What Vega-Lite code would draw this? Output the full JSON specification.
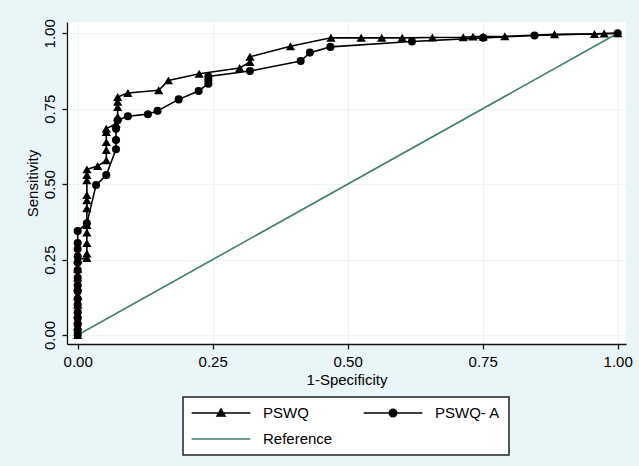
{
  "$schema": "https://vega.github.io/schema/vega-lite/v6.json",
  "width": 559,
  "height": 322,
  "autosize": {"type": "none"},
  "padding": {"left": 67, "top": 22, "right": 13, "bottom": 122},
  "background": "#EAF5F8",
  "config": {
    "view": {"fill": "white", "stroke": null},
    "font": "Liberation Sans",
    "axis": {
      "labelFont": "Liberation Sans",
      "titleFont": "Liberation Sans",
      "labelFontSize": 15,
      "titleFontSize": 15,
      "titleFontWeight": "normal",
      "labelColor": "black",
      "titleColor": "black",
      "domainColor": "#111111",
      "domainWidth": 1.3,
      "tickColor": "#111111",
      "tickWidth": 1.3,
      "tickSize": 5,
      "labelPadding": 5,
      "grid": true,
      "gridColor": "#EAF3F5",
      "labelFlush": false,
      "labelOverlap": false
    }
  },
  "data": {
    "values": [
      {"series": "Reference", "ord": 1, "fpr": 0, "tpr": 0},
      {"series": "Reference", "ord": 2, "fpr": 1, "tpr": 1},
      {"series": "PSWQ", "ord": 1, "fpr": 0, "tpr": 0},
      {"series": "PSWQ", "ord": 2, "fpr": 0, "tpr": 0.03},
      {"series": "PSWQ", "ord": 3, "fpr": 0, "tpr": 0.05},
      {"series": "PSWQ", "ord": 4, "fpr": 0, "tpr": 0.07},
      {"series": "PSWQ", "ord": 5, "fpr": 0, "tpr": 0.10},
      {"series": "PSWQ", "ord": 6, "fpr": 0, "tpr": 0.13},
      {"series": "PSWQ", "ord": 7, "fpr": 0, "tpr": 0.16},
      {"series": "PSWQ", "ord": 8, "fpr": 0, "tpr": 0.19},
      {"series": "PSWQ", "ord": 9, "fpr": 0, "tpr": 0.22},
      {"series": "PSWQ", "ord": 10, "fpr": 0, "tpr": 0.25},
      {"series": "PSWQ", "ord": 11, "fpr": 0.017, "tpr": 0.255},
      {"series": "PSWQ", "ord": 12, "fpr": 0.017, "tpr": 0.27},
      {"series": "PSWQ", "ord": 13, "fpr": 0.017, "tpr": 0.305},
      {"series": "PSWQ", "ord": 14, "fpr": 0.017, "tpr": 0.34},
      {"series": "PSWQ", "ord": 15, "fpr": 0.017, "tpr": 0.365},
      {"series": "PSWQ", "ord": 16, "fpr": 0.017, "tpr": 0.42},
      {"series": "PSWQ", "ord": 17, "fpr": 0.017, "tpr": 0.447},
      {"series": "PSWQ", "ord": 18, "fpr": 0.017, "tpr": 0.464},
      {"series": "PSWQ", "ord": 19, "fpr": 0.017, "tpr": 0.513},
      {"series": "PSWQ", "ord": 20, "fpr": 0.017, "tpr": 0.53},
      {"series": "PSWQ", "ord": 21, "fpr": 0.017, "tpr": 0.549},
      {"series": "PSWQ", "ord": 22, "fpr": 0.037, "tpr": 0.56},
      {"series": "PSWQ", "ord": 23, "fpr": 0.053, "tpr": 0.579},
      {"series": "PSWQ", "ord": 24, "fpr": 0.053, "tpr": 0.613},
      {"series": "PSWQ", "ord": 25, "fpr": 0.053, "tpr": 0.64},
      {"series": "PSWQ", "ord": 26, "fpr": 0.053, "tpr": 0.673},
      {"series": "PSWQ", "ord": 27, "fpr": 0.053, "tpr": 0.684},
      {"series": "PSWQ", "ord": 28, "fpr": 0.071, "tpr": 0.70},
      {"series": "PSWQ", "ord": 29, "fpr": 0.074, "tpr": 0.723},
      {"series": "PSWQ", "ord": 30, "fpr": 0.074, "tpr": 0.756},
      {"series": "PSWQ", "ord": 31, "fpr": 0.074, "tpr": 0.773},
      {"series": "PSWQ", "ord": 32, "fpr": 0.074, "tpr": 0.789},
      {"series": "PSWQ", "ord": 33, "fpr": 0.093, "tpr": 0.802},
      {"series": "PSWQ", "ord": 34, "fpr": 0.150, "tpr": 0.811},
      {"series": "PSWQ", "ord": 35, "fpr": 0.168, "tpr": 0.844},
      {"series": "PSWQ", "ord": 36, "fpr": 0.225, "tpr": 0.866},
      {"series": "PSWQ", "ord": 37, "fpr": 0.300, "tpr": 0.885},
      {"series": "PSWQ", "ord": 38, "fpr": 0.319, "tpr": 0.905},
      {"series": "PSWQ", "ord": 39, "fpr": 0.319, "tpr": 0.922},
      {"series": "PSWQ", "ord": 40, "fpr": 0.394, "tpr": 0.957},
      {"series": "PSWQ", "ord": 41, "fpr": 0.469, "tpr": 0.985},
      {"series": "PSWQ", "ord": 42, "fpr": 0.525, "tpr": 0.985},
      {"series": "PSWQ", "ord": 43, "fpr": 0.563, "tpr": 0.985},
      {"series": "PSWQ", "ord": 44, "fpr": 0.601, "tpr": 0.985},
      {"series": "PSWQ", "ord": 45, "fpr": 0.657, "tpr": 0.986},
      {"series": "PSWQ", "ord": 46, "fpr": 0.714, "tpr": 0.987},
      {"series": "PSWQ", "ord": 47, "fpr": 0.732, "tpr": 0.989},
      {"series": "PSWQ", "ord": 48, "fpr": 0.751, "tpr": 0.989},
      {"series": "PSWQ", "ord": 49, "fpr": 0.791, "tpr": 0.99},
      {"series": "PSWQ", "ord": 50, "fpr": 0.883, "tpr": 0.997},
      {"series": "PSWQ", "ord": 51, "fpr": 0.957, "tpr": 0.998},
      {"series": "PSWQ", "ord": 52, "fpr": 0.975, "tpr": 0.999},
      {"series": "PSWQ", "ord": 53, "fpr": 1, "tpr": 1},
      {"series": "PSWQ- A", "ord": 1, "fpr": 0, "tpr": 0},
      {"series": "PSWQ- A", "ord": 2, "fpr": 0, "tpr": 0.015},
      {"series": "PSWQ- A", "ord": 3, "fpr": 0, "tpr": 0.035},
      {"series": "PSWQ- A", "ord": 4, "fpr": 0, "tpr": 0.055},
      {"series": "PSWQ- A", "ord": 5, "fpr": 0, "tpr": 0.075},
      {"series": "PSWQ- A", "ord": 6, "fpr": 0, "tpr": 0.10},
      {"series": "PSWQ- A", "ord": 7, "fpr": 0, "tpr": 0.12},
      {"series": "PSWQ- A", "ord": 8, "fpr": 0, "tpr": 0.145},
      {"series": "PSWQ- A", "ord": 9, "fpr": 0, "tpr": 0.165},
      {"series": "PSWQ- A", "ord": 10, "fpr": 0, "tpr": 0.19},
      {"series": "PSWQ- A", "ord": 11, "fpr": 0, "tpr": 0.215},
      {"series": "PSWQ- A", "ord": 12, "fpr": 0, "tpr": 0.24},
      {"series": "PSWQ- A", "ord": 13, "fpr": 0, "tpr": 0.26},
      {"series": "PSWQ- A", "ord": 14, "fpr": 0, "tpr": 0.285},
      {"series": "PSWQ- A", "ord": 15, "fpr": 0, "tpr": 0.305},
      {"series": "PSWQ- A", "ord": 16, "fpr": 0, "tpr": 0.345},
      {"series": "PSWQ- A", "ord": 17, "fpr": 0.017, "tpr": 0.37},
      {"series": "PSWQ- A", "ord": 18, "fpr": 0.034, "tpr": 0.497},
      {"series": "PSWQ- A", "ord": 19, "fpr": 0.053, "tpr": 0.53},
      {"series": "PSWQ- A", "ord": 20, "fpr": 0.071, "tpr": 0.616},
      {"series": "PSWQ- A", "ord": 21, "fpr": 0.071, "tpr": 0.646},
      {"series": "PSWQ- A", "ord": 22, "fpr": 0.071, "tpr": 0.684},
      {"series": "PSWQ- A", "ord": 23, "fpr": 0.074, "tpr": 0.712},
      {"series": "PSWQ- A", "ord": 24, "fpr": 0.093, "tpr": 0.725},
      {"series": "PSWQ- A", "ord": 25, "fpr": 0.130, "tpr": 0.732},
      {"series": "PSWQ- A", "ord": 26, "fpr": 0.148, "tpr": 0.743},
      {"series": "PSWQ- A", "ord": 27, "fpr": 0.187, "tpr": 0.781},
      {"series": "PSWQ- A", "ord": 28, "fpr": 0.224, "tpr": 0.809},
      {"series": "PSWQ- A", "ord": 29, "fpr": 0.242, "tpr": 0.833},
      {"series": "PSWQ- A", "ord": 30, "fpr": 0.242, "tpr": 0.845},
      {"series": "PSWQ- A", "ord": 31, "fpr": 0.242, "tpr": 0.857},
      {"series": "PSWQ- A", "ord": 32, "fpr": 0.319, "tpr": 0.875},
      {"series": "PSWQ- A", "ord": 33, "fpr": 0.413, "tpr": 0.908},
      {"series": "PSWQ- A", "ord": 34, "fpr": 0.430, "tpr": 0.936},
      {"series": "PSWQ- A", "ord": 35, "fpr": 0.468, "tpr": 0.955},
      {"series": "PSWQ- A", "ord": 36, "fpr": 0.619, "tpr": 0.973},
      {"series": "PSWQ- A", "ord": 37, "fpr": 0.751, "tpr": 0.985},
      {"series": "PSWQ- A", "ord": 38, "fpr": 0.846, "tpr": 0.993},
      {"series": "PSWQ- A", "ord": 39, "fpr": 1, "tpr": 1}
    ]
  },
  "encoding": {
    "x": {
      "field": "fpr",
      "type": "quantitative",
      "scale": {"domain": [-0.0198, 1.0154], "nice": false, "zero": false},
      "axis": {"title": "1-Specificity", "values": [0, 0.25, 0.5, 0.75, 1], "format": ".2f", "titlePadding": 3}
    },
    "y": {
      "field": "tpr",
      "type": "quantitative",
      "scale": {"domain": [-0.0298, 1.0375], "nice": false, "zero": false},
      "axis": {"title": "Sensitivity", "values": [0, 0.25, 0.5, 0.75, 1], "format": ".2f", "labelAngle": 270, "labelAlign": "center", "labelBaseline": "bottom", "titlePadding": 2}
    }
  },
  "layer": [
    {
      "mark": {"type": "line", "strokeWidth": 1.6},
      "encoding": {
        "color": {
          "field": "series",
          "type": "nominal",
          "scale": {"domain": ["PSWQ", "PSWQ- A", "Reference"], "range": ["#000000", "#000000", "#437F70"]},
          "legend": {
            "title": null,
            "orient": "none",
            "direction": "horizontal",
            "legendX": 116,
            "legendY": 375,
            "columns": 2,
            "symbolSize": 196,
            "symbolStrokeWidth": 1.3,
            "symbolOffset": 22,
            "labelOffset": 34,
            "labelFont": "Liberation Sans",
            "labelFontSize": 15,
            "labelColor": "black",
            "labelLimit": 300,
            "columnPadding": 28,
            "rowPadding": 10,
            "padding": 8,
            "strokeColor": "#222222",
            "fillColor": "white",
            "encode": {
              "symbols": {
                "update": {
                  "shape": {"signal": "datum.value === 'PSWQ' ? 'M-4.2,0H4.2M0,-0.6L0.6,0.45H-0.6Z' : (datum.value === 'PSWQ- A' ? 'M-4.2,0H4.2M-0.55,0A0.55,0.55 0 1,0 0.55,0A0.55,0.55 0 1,0 -0.55,0Z' : 'M-4.2,0H4.2')"},
                  "fill": {"signal": "datum.value === 'Reference' ? 'transparent' : 'black'"}
                }
              },
              "legend": {"update": {"strokeWidth": {"value": 1.5}}}
            }
          }
        },
        "order": {"field": "ord", "type": "quantitative"}
      }
    },
    {
      "transform": [{"filter": "datum.series !== 'Reference'"}],
      "mark": {"type": "point", "filled": true, "opacity": 1, "color": "black"},
      "encoding": {
        "shape": {
          "field": "series",
          "type": "nominal",
          "scale": {"domain": ["PSWQ", "PSWQ- A"], "range": ["triangle-up", "circle"]},
          "legend": null
        },
        "size": {
          "field": "series",
          "type": "nominal",
          "scale": {"domain": ["PSWQ", "PSWQ- A"], "range": [85, 65]},
          "legend": null
        }
      }
    }
  ]
}
